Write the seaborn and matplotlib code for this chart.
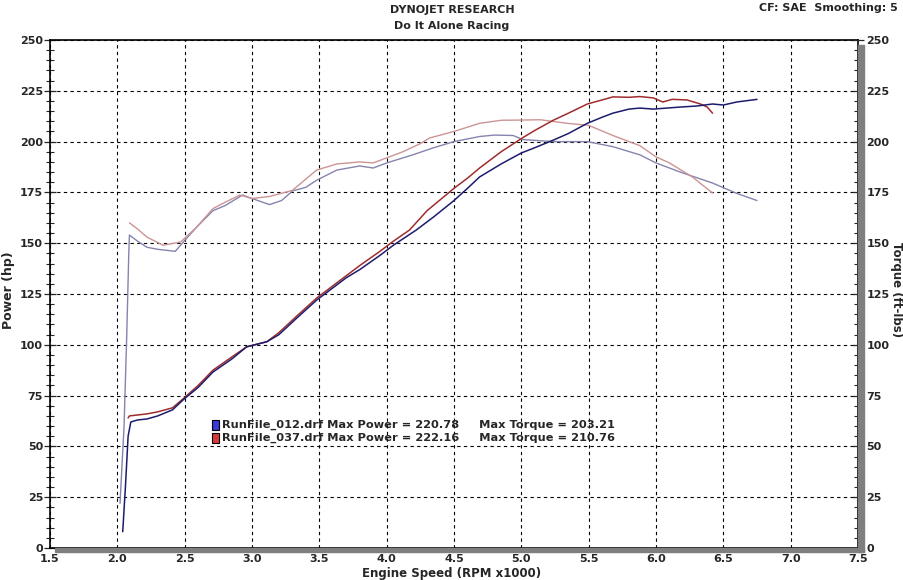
import matplotlib

matplotlib.use("Agg")
import matplotlib.pyplot as plt
import numpy as np
import pandas as pd
import seaborn as sns
from matplotlib.patches import Rectangle

# --- data (rpm x1000, value) ---
blue_power_rpm = [2.04, 2.06, 2.08, 2.10, 2.15, 2.22, 2.30, 2.41, 2.49, 2.60, 2.71, 2.85, 2.96,
                  3.11, 3.20, 3.33, 3.48, 3.60, 3.70, 3.80, 3.95, 4.05, 4.22, 4.35, 4.50, 4.60,
                  4.69, 4.85, 5.00, 5.10, 5.24, 5.35, 5.49, 5.60, 5.68, 5.80, 5.88, 5.98, 6.08,
                  6.18, 6.30, 6.42, 6.50, 6.60, 6.75]
blue_power_hp = [8, 30, 55, 62, 63, 63.5, 65, 68, 73, 79, 86.6, 93, 99,
                 101.5, 105, 113, 122, 128, 133, 137, 144, 149, 156.5, 163, 171, 177,
                 182.6, 189, 194.4, 197, 200.8, 204, 209, 212, 214, 216, 216.5, 216, 216.5,
                 217, 217.5, 218.5, 218, 219.5, 220.78]

red_power_rpm = [2.08, 2.09, 2.22, 2.30, 2.41, 2.49, 2.60, 2.71, 2.85, 2.96, 3.11, 3.20, 3.33,
                 3.48, 3.60, 3.70, 3.80, 3.95, 4.05, 4.17, 4.30, 4.50, 4.60, 4.69, 4.85, 5.00,
                 5.10, 5.24, 5.35, 5.49, 5.60, 5.68, 5.80, 5.88, 5.98, 6.05, 6.12, 6.23, 6.33,
                 6.38, 6.42]
red_power_hp = [64, 65, 66, 67, 69, 73.5, 80, 87.5, 94, 99, 101.5, 106, 114,
                123, 129, 134, 139, 146, 151, 156.5, 166, 177, 182, 187, 195, 201.5,
                205.5, 210.6, 214, 218.5, 220.5, 222, 221.8, 222.16, 221.5, 219.5, 220.8, 220.5, 218.5,
                217, 214]

blue_torque_rpm = [2.02, 2.05, 2.07, 2.085, 2.09, 2.15, 2.22, 2.30, 2.43, 2.49, 2.59, 2.71, 2.80,
                   2.93, 3.00, 3.13, 3.22, 3.30, 3.40, 3.48, 3.63, 3.80, 3.90, 4.00, 4.19, 4.35,
                   4.50, 4.69, 4.80, 4.94, 5.01, 5.24, 5.49, 5.68, 5.88, 6.00, 6.18, 6.42, 6.60,
                   6.75]
blue_torque_ft = [22, 60, 105, 145, 154, 151, 148, 147, 146, 150.6, 158, 166, 168.5,
                  173.7, 172, 169, 171, 175.7, 177.5, 181, 186, 188, 187, 189.5, 193.4, 197,
                  200, 202.5, 203.21, 203, 201, 200, 200, 197.5, 193.5, 189.5, 185, 179.6, 174.5,
                  171]

red_torque_rpm = [2.09, 2.15, 2.22, 2.34, 2.47, 2.59, 2.71, 2.76, 2.91, 3.00, 3.13, 3.30, 3.48,
                  3.63, 3.80, 3.90, 4.00, 4.12, 4.25, 4.32, 4.50, 4.69, 4.85, 5.00, 5.14, 5.34,
                  5.50, 5.68, 5.88, 6.00, 6.10, 6.27, 6.42]
red_torque_ft = [160, 157, 153, 149, 150.6, 158, 167, 168.8, 173.7, 172, 173, 176, 186,
                 189, 190, 189.5, 192, 195, 199, 201.8, 205, 209, 210.5, 210.6, 210.76, 209,
                 208, 203, 198, 192.5, 189.5, 182.6, 174.7]

legend_lines = [
    "RunFile_012.drf Max Power = 220.78     Max Torque = 203.21",
    "RunFile_037.drf Max Power = 222.16     Max Torque = 210.76",
]

C_BLUE_HP = "#1c1c6e"
C_RED_HP = "#a02c2c"
C_BLUE_TQ = "#8484ae"
C_RED_TQ = "#cc9494"

sns.set_style("white")
plt.rcParams["font.family"] = ["DejaVu Sans"]

fig = plt.figure(figsize=(9.04, 5.8), dpi=100)
ax = fig.add_axes([50 / 904, 32 / 580, 808 / 904, 508 / 580])

# drop shadow on right and bottom of the plot frame
fig.patches.append(Rectangle((858 / 904, 28 / 580), 6 / 904, 507 / 580,
                             transform=fig.transFigure, color="#7f7f7f", zorder=0))
fig.patches.append(Rectangle((55 / 904, 28 / 580), 809 / 904, 4 / 580,
                             transform=fig.transFigure, color="#7f7f7f", zorder=0))

series = [
    (blue_torque_rpm, blue_torque_ft, C_BLUE_TQ, 1.0),
    (red_torque_rpm, red_torque_ft, C_RED_TQ, 1.0),
    (red_power_rpm, red_power_hp, C_RED_HP, 1.1),
    (blue_power_rpm, blue_power_hp, C_BLUE_HP, 1.1),
]
for xs, ys, col, lw in series:
    df = pd.DataFrame({"rpm": xs, "val": ys})
    sns.lineplot(data=df, x="rpm", y="val", ax=ax, color=col, lw=lw,
                 sort=False, estimator=None, zorder=3)

ax.set_xlim(1.5, 7.5)
ax.set_ylim(0, 250)
ax.set_xticks(np.arange(1.5, 7.51, 0.5))
ax.set_xticks(np.arange(1.5, 7.51, 0.1), minor=True)
ax.set_yticks(np.arange(0, 251, 25))
ax.set_yticks(np.arange(0, 251, 5), minor=True)
ax.set_xticklabels([f"{v:.1f}" for v in np.arange(1.5, 7.51, 0.5)],
                   fontsize=8, fontweight="bold")
ax.set_yticklabels([str(v) for v in range(0, 251, 25)], fontsize=8, fontweight="bold")
ax.tick_params(axis="y", which="major", direction="inout", length=8, width=0.9, pad=1)
ax.tick_params(axis="y", which="minor", direction="inout", length=6, width=0.8)
ax.tick_params(axis="x", which="major", direction="inout", length=6, width=0.9, pad=1)
ax.tick_params(axis="x", which="minor", direction="inout", length=6, width=0.8)
ax.grid(True, which="major", color="black", linestyle=(0, (3, 3)), linewidth=0.8)
for s in ax.spines.values():
    s.set_color("black")
    s.set_linewidth(1.2)
ax.set_xlabel("")
ax.set_ylabel("")

ax2 = ax.twinx()
ax2.set_ylim(0, 250)
ax2.set_yticks(np.arange(0, 251, 25))
ax2.set_yticks(np.arange(0, 251, 5), minor=True)
ax2.set_yticklabels([str(v) for v in range(0, 251, 25)], fontsize=8, fontweight="bold")
ax2.tick_params(axis="y", which="major", direction="inout", length=8, width=0.9, pad=2)
ax2.tick_params(axis="y", which="minor", direction="inout", length=6, width=0.8)
for s in ax2.spines.values():
    s.set_visible(False)

# legend block inside the plot
for i, (txt, face) in enumerate(zip(legend_lines, ["#3a3ad8", "#d83a3a"])):
    yv = 60.5 - i * 6.3
    ax.add_patch(Rectangle((2.70, yv - 2.4), 0.055, 4.8, facecolor=face,
                           edgecolor="black", lw=0.8, zorder=5))
    ax.text(2.78, yv, txt, fontsize=8.2, fontweight="bold", va="center", ha="left", zorder=5)

# axis titles placed directly in figure pixels
fig.text(452 / 904, 1 - 573 / 580, "Engine Speed (RPM x1000)", ha="center", va="center",
         fontsize=8.5, fontweight="bold")
fig.text(9 / 904, 1 - 290 / 580, "Power (hp)", ha="center", va="center",
         fontsize=9, fontweight="bold", rotation=90)
fig.text(897 / 904, 1 - 290 / 580, "Torque (ft-lbs)", ha="center", va="center",
         fontsize=8.5, fontweight="bold", rotation=270)

fig.text(452 / 904, 1 - 10 / 580, "DYNOJET RESEARCH", ha="center", va="center",
         fontsize=8, fontweight="bold")
fig.text(452 / 904, 1 - 26 / 580, "Do It Alone Racing", ha="center", va="center",
         fontsize=8, fontweight="bold")
fig.text(898 / 904, 1 - 8 / 580, "CF: SAE  Smoothing: 5", ha="right", va="center",
         fontsize=8, fontweight="bold")

fig.savefig("out.png", dpi=100, facecolor="white")
